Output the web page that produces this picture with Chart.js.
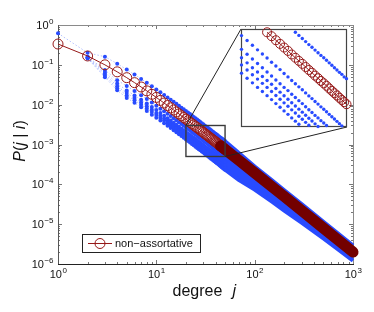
<!DOCTYPE html>
<html>
<head>
<meta charset="utf-8">
<script src="https://cdn.jsdelivr.net/npm/chart.js@4.4.0/dist/chart.umd.min.js"></script>
<style>
  html, body { margin: 0; padding: 0; background: #fff; }
  #wrap { position: relative; width: 374px; height: 312px; }
  #grafico { position: absolute; left: 0; top: 0; }
  #zoom { position: absolute; left: 236px; top: 24px; }
</style>
</head>
<body>
<div id="wrap">
  <canvas id="grafico" width="374" height="312"></canvas>
  <canvas id="zoom" width="116" height="108"></canvas>
</div>
<script>
// degree j, one dot per degree up to 50
let degree = [1, 2, 3, 4, 5, 6, 7, 8, 9, 10, 11, 12, 13, 14, 15, 16, 17, 18, 19, 20,
  21, 22, 23, 24, 25, 26, 27, 28, 29, 30, 31, 32, 33, 34, 35, 36, 37, 38, 39, 40,
  41, 42, 43, 44, 45, 46, 47, 48, 49, 50]

// non-assortative P(j|i), red circles
let pNonAssort = [0.333, 0.167, 0.1, 0.0667, 0.0476, 0.0357, 0.0278, 0.0222, 0.0182, 0.0152,
  0.0128, 0.011, 0.00952, 0.00833, 0.00735, 0.00654, 0.00585, 0.00526, 0.00476, 0.00433,
  0.00395, 0.00362, 0.00333, 0.00308, 0.00285, 0.00265, 0.00246, 0.0023, 0.00215, 0.00202,
  0.00189, 0.00178, 0.00168, 0.00159, 0.0015, 0.00142, 0.00135, 0.00128, 0.00122, 0.00116,
  0.00111, 0.00106, 0.00101, 0.000966, 0.000925, 0.000887, 0.00085, 0.000816, 0.000784, 0.000754]

// blue dots, one row above the red curve and five below
let pBlueA = [0.62, 0.2, 0.16, 0.107, 0.076, 0.0571, 0.0444, 0.0356, 0.0291, 0.0242,
  0.0205, 0.0176, 0.0152, 0.0133, 0.0118, 0.0105, 0.00936, 0.00842, 0.00762, 0.00693,
  0.00632, 0.00579, 0.00533, 0.00493, 0.00456, 0.00424, 0.00394, 0.00368, 0.00344, 0.00323,
  0.00302, 0.00285, 0.00269, 0.00254, 0.0024, 0.00227, 0.00216, 0.00205, 0.00195, 0.00186,
  0.00178, 0.0017, 0.00162, 0.00155, 0.00148, 0.00142, 0.00136, 0.00131, 0.00125, 0.00121]
let pBlueB = [null, 0.16, 0.074, 0.041, 0.0295, 0.0221, 0.0172, 0.0138, 0.0113, 0.0094,
  0.0079, 0.0068, 0.0059, 0.00517, 0.00456, 0.00405, 0.00363, 0.00326, 0.00295, 0.00268,
  0.00245, 0.00224, 0.00206, 0.00191, 0.00177, 0.00164, 0.00153, 0.00143, 0.00133, 0.00125,
  0.00117, 0.0011, 0.00104, 0.000986, 0.00093, 0.00088, 0.000837, 0.000794, 0.000756, 0.000719,
  0.000688, 0.000657, 0.000626, 0.000599, 0.000574, 0.00055, 0.000527, 0.000506, 0.000486, 0.000467]
let pBlueC = [null, 0.155, 0.066, 0.034, 0.0228, 0.0171, 0.0133, 0.0107, 0.0087, 0.0073,
  0.0062, 0.0053, 0.00457, 0.004, 0.00353, 0.00314, 0.00281, 0.00252, 0.00228, 0.00208,
  0.0019, 0.00174, 0.0016, 0.00148, 0.00137, 0.00127, 0.00118, 0.0011, 0.00103, 0.00097,
  0.000907, 0.000854, 0.000806, 0.000763, 0.00072, 0.000682, 0.000648, 0.000614, 0.000586, 0.000557,
  0.000533, 0.000509, 0.000485, 0.000464, 0.000444, 0.000426, 0.000408, 0.000392, 0.000376, 0.000362]
let pBlueD = [null, 0.15, 0.06, 0.029, 0.0195, 0.0146, 0.0114, 0.0091, 0.0075, 0.0062,
  0.0053, 0.0045, 0.0039, 0.00342, 0.00301, 0.00268, 0.0024, 0.00216, 0.00195, 0.00178,
  0.00162, 0.00148, 0.00137, 0.00126, 0.00117, 0.00109, 0.00101, 0.000943, 0.000882, 0.000828,
  0.000775, 0.00073, 0.000689, 0.000652, 0.000615, 0.000582, 0.000554, 0.000525, 0.0005, 0.000476,
  0.000455, 0.000435, 0.000414, 0.000396, 0.000379, 0.000364, 0.000349, 0.000335, 0.000321, 0.000309]
let pBlueE = [null, 0.148, 0.054, 0.026, 0.0171, 0.0129, 0.01, 0.008, 0.0065, 0.0055,
  0.0046, 0.004, 0.00343, 0.003, 0.00265, 0.00235, 0.00211, 0.00189, 0.00171, 0.00156,
  0.00142, 0.0013, 0.0012, 0.00111, 0.00103, 0.000954, 0.000886, 0.000828, 0.000774, 0.000727,
  0.00068, 0.000641, 0.000605, 0.000572, 0.00054, 0.000511, 0.000486, 0.000461, 0.000439, 0.000418,
  0.0004, 0.000382, 0.000364, 0.000348, 0.000333, 0.000319, 0.000306, 0.000294, 0.000282, 0.000271]
let pBlueF = [null, 0.145, 0.049, 0.023, 0.0148, 0.0111, 0.0086, 0.0069, 0.0056, 0.0047,
  0.004, 0.0034, 0.00295, 0.00258, 0.00228, 0.00203, 0.00181, 0.00163, 0.00148, 0.00134,
  0.00122, 0.00112, 0.00103, 0.000955, 0.000884, 0.000822, 0.000763, 0.000713, 0.000667, 0.000626,
  0.000586, 0.000552, 0.000521, 0.000493, 0.000465, 0.00044, 0.000419, 0.000397, 0.000378, 0.00036,
  0.000344, 0.000329, 0.000313, 0.000299, 0.000287, 0.000275, 0.000264, 0.000253, 0.000243, 0.000234]

// high degrees: the markers merge into solid bands
let degreeTail = [45, 50, 70, 100, 150, 200, 300, 500, 700, 1000]
let pNonAssortTail = [0.000925, 0.000754, 0.000391, 0.000194, 8.71e-5, 4.93e-5, 2.2e-5, 7.95e-6, 4.06e-6, 2.0e-6]
let pBlueTop = [0.00148, 0.00121, 0.00059, 0.00028, 0.000126, 7.1e-5, 3.2e-5, 1.15e-5, 5.9e-6, 2.9e-6]
let pBlueBottom = [0.000287, 0.000234, 0.000126, 7.4e-5, 3.66e-5, 2.2e-5, 1.1e-5, 4.4e-6, 2.36e-6, 1.22e-6]

let xTicks = [1, 10, 100, 1000], xTickPowers = ['0', '1', '2', '3']
let yTicks = [1, 1e-1, 1e-2, 1e-3, 1e-4, 1e-5, 1e-6]
let yTickPowers = ['0', '\u22121', '\u22122', '\u22123', '\u22124', '\u22125', '\u22126']
let zoomX = [20, 50], zoomY = [5e-4, 3e-3]
let insetBox = {left: 241, top: 29, right: 347, bottom: 127}

let blue = 'rgb(40,75,255)'
let darkRed = 'rgb(150,25,25)'
let fonte = '"Liberation Sans", Arial, sans-serif'
let lowerSeries = [pBlueB, pBlueC, pBlueD, pBlueE, pBlueF]

let toPts = (xs, ys) => xs.map((x, i) => ({x: x, y: ys[i]})).filter(p => p.y != null)
let inZoom = pts => pts.filter(p => p.x >= zoomX[0] && p.x <= zoomX[1] && p.y >= zoomY[0] && p.y <= zoomY[1])

function seg(ctx, x1, y1, x2, y2) {
  ctx.beginPath(); ctx.moveTo(x1, y1); ctx.lineTo(x2, y2); ctx.stroke()
}

// upper blue row, placed with the chart's own scales
function upperRow(chart, pts, r, dotted) {
  let {ctx, scales: {x, y}} = chart
  ctx.save()
  if (dotted) {
    ctx.strokeStyle = 'rgba(90,120,255,0.45)'
    ctx.lineWidth = 1
    ctx.setLineDash([1.5, 2])
    ctx.beginPath()
    pts.forEach((p, i) => {
      let px = x.getPixelForValue(p.x), py = y.getPixelForValue(p.y)
      if (i == 0) ctx.moveTo(px, py); else ctx.lineTo(px, py)
    })
    ctx.stroke()
  }
  ctx.fillStyle = blue
  pts.forEach(p => {
    ctx.beginPath()
    ctx.arc(x.getPixelForValue(p.x), y.getPixelForValue(p.y), r, 0, 2 * Math.PI)
    ctx.fill()
  })
  ctx.restore()
}

function pow10(ctx, sup, x, y, align) {
  ctx.font = '11px ' + fonte
  let wb = ctx.measureText('10').width
  ctx.font = '8px ' + fonte
  let ws = ctx.measureText(sup).width
  let left = align == 'center' ? x - (wb + ws) / 2 : x - wb - ws
  ctx.textAlign = 'left'
  ctx.textBaseline = 'alphabetic'
  ctx.font = '11px ' + fonte
  ctx.fillText('10', left, y)
  ctx.font = '8px ' + fonte
  ctx.fillText(sup, left + wb + 0.5, y - 5)
}

// inset: zoom on 20 <= j <= 50
let quadro = {
  id: 'quadro',
  beforeDatasetsDraw(chart) {
    let {ctx, chartArea: a} = chart
    ctx.save()
    ctx.fillStyle = '#fff'
    ctx.fillRect(a.left, a.top, a.right - a.left, a.bottom - a.top)
    ctx.strokeStyle = '#444'
    ctx.lineWidth = 1.2
    ctx.strokeRect(a.left, a.top, a.right - a.left, a.bottom - a.top)
    ctx.restore()
    upperRow(chart, inZoom(toPts(degree, pBlueA)), 1.7, false)
  }
}

let insetDot = s => ({data: inZoom(toPts(degree, s)), showLine: false, clip: false,
  pointRadius: 1.7, pointBackgroundColor: blue, pointBorderColor: blue, pointBorderWidth: 0})
let insetSets = [{data: inZoom(toPts(degree, pNonAssort)), borderColor: darkRed, borderWidth: 1, clip: false,
  pointRadius: 4.5, pointBorderColor: darkRed, pointBackgroundColor: 'rgba(0,0,0,0)', pointBorderWidth: 1}]
lowerSeries.forEach(s => insetSets.push(insetDot(s)))

new Chart(document.getElementById('zoom'), {
  type: 'line',
  data: {datasets: insetSets},
  options: {
    responsive: false,
    animation: false,
    events: [],
    layout: {padding: 5},
    scales: {
      x: {type: 'logarithmic', min: zoomX[0], max: zoomX[1], display: false},
      y: {type: 'logarithmic', min: zoomY[0], max: zoomY[1], display: false}
    },
    plugins: {legend: {display: false}, tooltip: {enabled: false}}
  },
  plugins: [quadro]
})

// frame, ticks, labels, zoom box and legend of the main axes
let decoracao = {
  id: 'decoracao',
  beforeDatasetsDraw(chart) {
    let {ctx, chartArea: a, scales: {x, y}} = chart
    ctx.save()
    ctx.lineWidth = 1
    ctx.strokeStyle = '#777'
    for (let d = 0; d < 3; d++) for (let m = 1; m < 10; m++) {
      let px = Math.round(x.getPixelForValue(m * 10 ** d)) + 0.5
      let len = m == 1 ? 4 : 2
      seg(ctx, px, a.bottom, px, a.bottom - len)
      seg(ctx, px, a.top, px, a.top + len)
    }
    for (let d = -6; d < 0; d++) for (let m = 1; m < 10; m++) {
      let py = Math.round(y.getPixelForValue(m * 10 ** d)) + 0.5
      let len = m == 1 ? 4 : 2
      seg(ctx, a.left, py, a.left + len, py)
      seg(ctx, a.right, py, a.right - len, py)
    }
    ctx.strokeStyle = '#8a8a8a'
    seg(ctx, a.left, a.top + 0.5, a.right, a.top + 0.5)
    seg(ctx, a.right + 0.5, a.top, a.right + 0.5, a.bottom)
    ctx.strokeStyle = '#555'
    seg(ctx, a.left + 0.5, a.top, a.left + 0.5, a.bottom)
    ctx.strokeStyle = '#222'
    seg(ctx, a.left, a.bottom + 0.5, a.right + 1, a.bottom + 0.5)
    ctx.restore()
    upperRow(chart, toPts(degree, pBlueA), 2, true)
  },
  afterDatasetsDraw(chart) {
    let {ctx, scales: {x, y}} = chart
    let x1 = x.getPixelForValue(zoomX[0]), x2 = x.getPixelForValue(zoomX[1])
    let y1 = y.getPixelForValue(zoomY[1]), y2 = y.getPixelForValue(zoomY[0])
    ctx.save()
    ctx.strokeStyle = '#3a3a3a'
    ctx.lineWidth = 1.4
    ctx.strokeRect(x1, y1, x2 - x1, y2 - y1)
    ctx.lineWidth = 1
    ctx.strokeStyle = '#222'
    seg(ctx, x1, y1, insetBox.left, insetBox.top)
    seg(ctx, x2, y2, insetBox.right, insetBox.bottom)
    ctx.restore()
  },
  afterDraw(chart) {
    let {ctx, chartArea: a, scales: {x, y}} = chart
    ctx.save()
    ctx.fillStyle = '#111'
    xTicks.forEach((v, i) => pow10(ctx, xTickPowers[i], x.getPixelForValue(v), a.bottom + 14, 'center'))
    yTicks.forEach((v, i) => pow10(ctx, yTickPowers[i], a.left - 5, y.getPixelForValue(v) + 4, 'right'))

    // axis titles
    let cx = (a.left + a.right) / 2
    ctx.textBaseline = 'alphabetic'
    ctx.textAlign = 'left'
    ctx.font = '16px ' + fonte
    ctx.fillText('degree', cx - 33, a.bottom + 32)
    ctx.font = 'italic 16px ' + fonte
    ctx.fillText('j', cx + 27, a.bottom + 32)

    let partes = [['P', true], ['(', false], ['j', true], [' | ', false], ['i', true], [')', false]]
    let larg = 0
    partes.forEach(p => { ctx.font = (p[1] ? 'italic ' : '') + '16px ' + fonte; larg += ctx.measureText(p[0]).width })
    ctx.translate(25, 141)
    ctx.rotate(-Math.PI / 2)
    let pos = -larg / 2
    partes.forEach(p => {
      ctx.font = (p[1] ? 'italic ' : '') + '16px ' + fonte
      ctx.fillText(p[0], pos, 0)
      pos += ctx.measureText(p[0]).width
    })
    ctx.setTransform(1, 0, 0, 1, 0, 0)

    // legend
    let bx = a.left + 24, by = a.bottom - 30, bw = 118, bh = 18
    ctx.fillStyle = '#fff'
    ctx.fillRect(bx, by, bw, bh)
    ctx.strokeStyle = '#222'
    ctx.lineWidth = 1
    ctx.strokeRect(bx + 0.5, by + 0.5, bw, bh)
    ctx.strokeStyle = darkRed
    seg(ctx, bx + 6, by + 9.5, bx + 30, by + 9.5)
    ctx.beginPath(); ctx.arc(bx + 18, by + 9.5, 5, 0, 2 * Math.PI); ctx.stroke()
    ctx.fillStyle = '#111'
    ctx.font = '11px ' + fonte
    ctx.textBaseline = 'middle'
    ctx.fillText('non\u2212assortative', bx + 33, by + 10)
    ctx.restore()
  }
}

let mainDot = (s, k) => ({data: toPts(degree, s), borderColor: 'rgba(90,120,255,0.45)', borderWidth: 1,
  borderDash: [1.5, 2], pointRadius: 2, pointBackgroundColor: blue, pointBorderColor: blue,
  pointBorderWidth: 0, order: k, clip: false})
let mainSets = [
  {data: toPts(degreeTail, pNonAssortTail), borderColor: 'rgb(115,0,0)', borderWidth: 11,
    borderCapStyle: 'round', borderJoinStyle: 'round', pointRadius: 0, order: 0, clip: false},
  {data: toPts(degree, pNonAssort), borderColor: darkRed, borderWidth: 1, pointRadius: 5,
    pointBorderColor: darkRed, pointBackgroundColor: 'rgba(0,0,0,0)', pointBorderWidth: 1, order: 1, clip: false}
]
lowerSeries.forEach((s, k) => mainSets.push(mainDot(s, 3 + k)))
mainSets.push({data: toPts(degreeTail, pBlueTop), borderColor: blue, borderWidth: 4,
  borderJoinStyle: 'round', pointRadius: 0, order: 20, clip: false})
mainSets.push({data: toPts(degreeTail, pBlueBottom), borderColor: blue, borderWidth: 4,
  borderJoinStyle: 'round', pointRadius: 0, fill: '-1', backgroundColor: blue, order: 21, clip: false})

new Chart(document.getElementById('grafico'), {
  type: 'line',
  data: {datasets: mainSets},
  options: {
    responsive: false,
    animation: false,
    events: [],
    layout: {padding: {left: 58, right: 21, top: 25, bottom: 48}},
    scales: {
      x: {type: 'logarithmic', min: 1, max: 1000, display: false},
      y: {type: 'logarithmic', min: 1e-6, max: 1, display: false}
    },
    plugins: {legend: {display: false}, tooltip: {enabled: false}}
  },
  plugins: [decoracao]
})
</script>
</body>
</html>
